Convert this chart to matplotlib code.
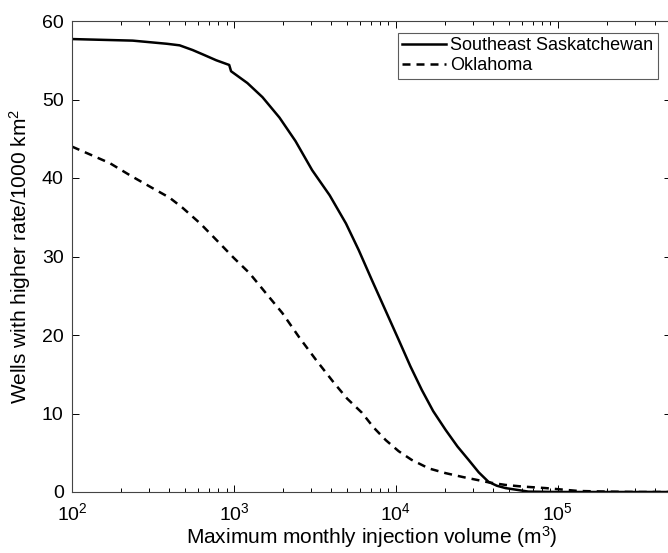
import numpy as np
import matplotlib.pyplot as plt
from matplotlib.ticker import LogLocator, FixedLocator

plt.rcParams['font.family'] = ['Liberation Sans', 'DejaVu Sans']
plt.rcParams['mathtext.fontset'] = 'custom'
plt.rcParams['mathtext.rm'] = 'Liberation Sans'
plt.rcParams['mathtext.it'] = 'Liberation Sans'

# Southeast Saskatchewan (solid)
sask_vol = [100, 237, 385, 462, 556, 650, 777, 935, 960, 1210, 1500, 1910, 2400,
            3040, 3900, 4920, 5900, 7110, 8600, 10400, 12300, 14460, 17000,
            20300, 24000, 28100, 32500, 37300, 42000, 47500, 65800, 100000, 500000]
sask_wells = [57.7, 57.5, 57.1, 56.9, 56.3, 55.7, 55.0, 54.4, 53.6, 52.1, 50.3, 47.7, 44.7,
              41.0, 37.8, 34.2, 30.8, 27.0, 23.2, 19.4, 16.0, 13.0, 10.3,
              7.9, 5.8, 4.1, 2.5, 1.3, 0.8, 0.5, 0.05, 0.0, 0.0]

# Oklahoma (dashed)
okla_vol = [100, 171, 230, 315, 400, 482, 620, 780, 1000, 1245, 1580, 1990, 2530,
            3220, 4150, 5000, 6170, 7300, 8670, 10400, 12500, 16000, 20300, 26000,
            32400, 38000, 47500, 60000, 83800, 134000, 200000, 300000, 500000]
okla_wells = [44.0, 41.9, 40.3, 38.7, 37.5, 36.2, 34.2, 32.1, 29.8, 27.9, 25.3, 22.8, 19.7,
              16.8, 13.9, 11.9, 10.1, 8.2, 6.6, 5.2, 4.1, 3.0, 2.4, 1.9,
              1.5, 1.2, 0.9, 0.7, 0.5, 0.13, 0.05, 0.0, 0.0]

fig = plt.figure(figsize=(6.68, 5.53), dpi=100)
ax = fig.add_axes([72 / 668, 61 / 553, 599 / 668, 471 / 553])

ax.plot(sask_vol, sask_wells, 'k-', lw=1.8, label='Southeast Saskatchewan')
ax.plot(okla_vol, okla_wells, 'k--', lw=1.8, dashes=(3.2, 2.4), label='Oklahoma')

ax.set_xscale('log')
ax.set_xlim(100, 5e5)
ax.set_ylim(0, 60)
ax.xaxis.set_major_locator(FixedLocator([1e2, 1e3, 1e4, 1e5]))
ax.xaxis.set_minor_locator(LogLocator(base=10, subs=np.arange(2, 10)))
ax.set_xticklabels(['$10^2$', '$10^3$', '$10^4$', '$10^5$'])
ax.set_yticks([0, 10, 20, 30, 40, 50, 60])

ax.tick_params(which='both', direction='in', top=True, right=True,
               labelsize=14, width=0.7)
ax.tick_params(axis='x', pad=7)
ax.tick_params(axis='y', pad=6)
ax.tick_params(which='major', length=5)
ax.tick_params(which='minor', length=3)
for s in ax.spines.values():
    s.set_linewidth(0.8)
    s.set_color('#444444')

ax.set_xlabel('Maximum monthly injection volume (m$^3$)', fontsize=15, labelpad=0)
ax.set_ylabel('Wells with higher rate/1000 km$^2$', fontsize=15, labelpad=6)

leg = ax.legend(loc='upper right', bbox_to_anchor=(0.978, 0.975), fontsize=13,
                frameon=True, fancybox=False, handlelength=2.4, handletextpad=0.25,
                borderpad=0.25, labelspacing=0.15, borderaxespad=0)
leg.get_frame().set_edgecolor('#333333')
leg.get_frame().set_linewidth(0.8)

fig.savefig('out.png', dpi=100)
